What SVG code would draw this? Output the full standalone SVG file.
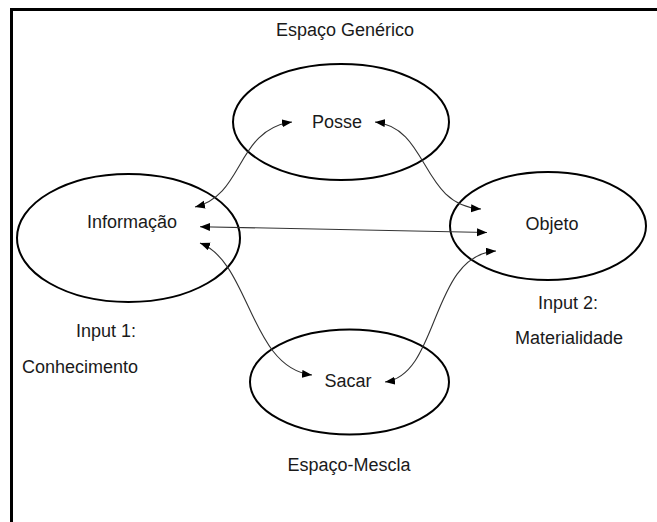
<svg xmlns="http://www.w3.org/2000/svg" width="657" height="522" viewBox="0 0 657 522">
  <style>
    .node { fill: none; stroke: #000; stroke-width: 2; }
    .lbl { font-family: "Liberation Sans", Arial, sans-serif; font-size: 18px; fill: #1a1a1a; text-anchor: middle; }
    .conn { fill: none; stroke: #333; stroke-width: 1.1; }
    .frame { fill: none; stroke: #000; stroke-width: 3; }
  </style>
  <defs>
    <marker id="arr" markerUnits="userSpaceOnUse" markerWidth="11" markerHeight="9" refX="10" refY="4" orient="auto-start-reverse">
      <path d="M0,0 L10,4 L0,8 z" fill="#000"/>
    </marker>
  </defs>
  <rect width="657" height="522" fill="#fff"/>
  <path class="frame" d="M11.5,522 V9.5 H657"/>

  <text class="lbl" x="345" y="36">Espaço Genérico</text>
  <text class="lbl" x="349" y="471">Espaço-Mescla</text>

  <g id="posse">
    <ellipse class="node" cx="341" cy="122" rx="108" ry="58"/>
    <text class="lbl" x="337" y="128">Posse</text>
  </g>
  <g id="informacao">
    <ellipse class="node" cx="128.5" cy="238" rx="111.5" ry="64"/>
    <text class="lbl" x="132" y="228">Informação</text>
  </g>
  <g id="objeto">
    <ellipse class="node" cx="548" cy="226" rx="98" ry="54"/>
    <text class="lbl" x="552" y="230">Objeto</text>
  </g>
  <g id="sacar">
    <ellipse class="node" cx="349.5" cy="382" rx="99.5" ry="52.5"/>
    <text class="lbl" x="348" y="387">Sacar</text>
  </g>
  <g id="input1">
    <text class="lbl" x="106" y="337">Input 1:</text>
    <text class="lbl" x="80" y="373">Conhecimento</text>
  </g>
  <g id="input2">
    <text class="lbl" x="568" y="309">Input 2:</text>
    <text class="lbl" x="569" y="344">Materialidade</text>
  </g>

  <g id="connectors">
    <path class="conn" marker-start="url(#arr)" marker-end="url(#arr)" d="M200,226.7 L487,232.5"/>
    <path class="conn" marker-start="url(#arr)" marker-end="url(#arr)" d="M195,207 C245,195 235,130 292,122"/>
    <path class="conn" marker-start="url(#arr)" marker-end="url(#arr)" d="M375,122 C430,128 420,205 481,209"/>
    <path class="conn" marker-start="url(#arr)" marker-end="url(#arr)" d="M200,243 C250,262 250,368 312,375"/>
    <path class="conn" marker-start="url(#arr)" marker-end="url(#arr)" d="M385,382 C440,375 430,255 496,251"/>
  </g>
</svg>
